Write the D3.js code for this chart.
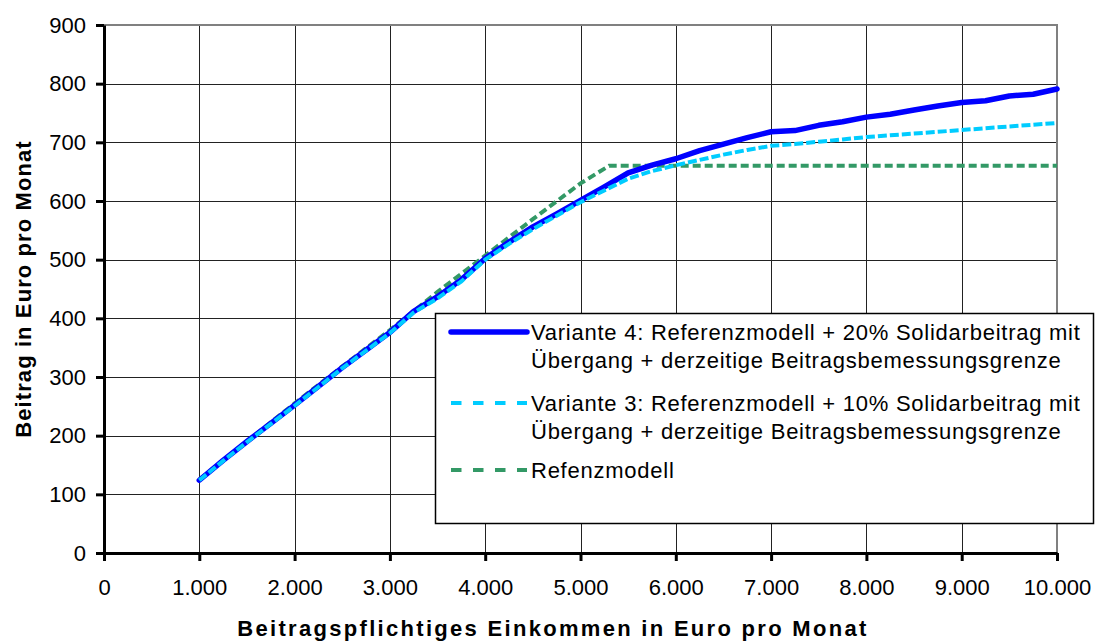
<!DOCTYPE html>
<html>
<head>
<meta charset="utf-8">
<script src="https://cdn.jsdelivr.net/npm/d3@7"></script>
<style>
  body { margin: 0; background: #fff; }
  svg { font-family: "Liberation Sans", Arial, sans-serif; }
</style>
</head>
<body>
<div id="chart"></div>
<script>
// income steps (Euro / month) for the two variants
const income = [1000, 1250, 1500, 1750, 2000, 2250, 2500, 2750, 3000, 3250, 3500, 3750,
    4000, 4250, 4500, 4750, 5000, 5250, 5500, 5750, 6000, 6250, 6500, 6750, 7000, 7250,
    7500, 7750, 8000, 8250, 8500, 8750, 9000, 9250, 9500, 9750, 10000];

const variante4 = [124, 158, 190, 221, 252, 284, 316, 346, 376, 412, 437, 466,
    502, 530, 556, 578, 601, 624, 648, 661, 672, 686, 697, 708, 718, 720,
    729, 735, 743, 748, 755, 762, 768, 771, 779, 782, 791];

const variante3 = [124, 157, 189, 220, 251, 283, 315, 345, 375, 410, 434, 463,
    500, 527, 552, 575, 598, 618, 638, 651, 661, 670, 679, 687, 694, 697,
    701, 705, 709, 712, 715, 718, 721, 724, 727, 730, 733];

// reference model has its own points (kink at the cap)
const refIncome = [1000, 1500, 2000, 2500, 3000, 3500, 4000, 4500, 5000, 5300, 10000];
const referenz = [125, 190, 255, 318, 380, 445, 507, 569, 630, 660, 660];

const xTicks = [0, 1000, 2000, 3000, 4000, 5000, 6000, 7000, 8000, 9000, 10000];
const yTicks = [0, 100, 200, 300, 400, 500, 600, 700, 800, 900];

const seriesNames = [
    ["Variante 4: Referenzmodell + 20% Solidarbeitrag mit", "Übergang + derzeitige Beitragsbemessungsgrenze"],
    ["Variante 3: Referenzmodell + 10% Solidarbeitrag mit", "Übergang + derzeitige Beitragsbemessungsgrenze"],
    ["Refenzmodell"]
];

const width = 1096, height = 641;
const margin = {top: 25, right: 39, bottom: 88, left: 104};

const de = d3.formatLocale({decimal: ",", thousands: ".", grouping: [3], currency: ["", " €"]});
const fmt = de.format(",d");

const svg = d3.select("#chart")
    .append("svg")
    .attr("width", width)
    .attr("height", height);

const x = d3.scaleLinear()
    .domain([0, 10000])
    .range([margin.left, width - margin.right]);

const y = d3.scaleLinear()
    .domain([0, 900])
    .range([height - margin.bottom, margin.top]);

// grid
svg.append("g")
    .selectAll("line.h")
    .data(yTicks.filter(d => d > 0 && d < 900))
    .join("line")
    .attr("x1", x(0)).attr("x2", x(10000))
    .attr("y1", d => Math.round(y(d)) + 0.5).attr("y2", d => Math.round(y(d)) + 0.5)
    .attr("stroke", "#222").attr("stroke-width", 1);

svg.append("g")
    .selectAll("line.v")
    .data(xTicks.filter(d => d > 0 && d < 10000))
    .join("line")
    .attr("x1", d => Math.round(x(d)) + 0.5).attr("x2", d => Math.round(x(d)) + 0.5)
    .attr("y1", y(0)).attr("y2", y(900))
    .attr("stroke", "#222").attr("stroke-width", 1);

// plot area border (top + right), grey
svg.append("path")
    .attr("d", `M${x(0)},${y(900)}H${x(10000)}V${y(0)}`)
    .attr("fill", "none")
    .attr("stroke", "#808080")
    .attr("stroke-width", 2);

// axes
const yAxis = svg.append("g")
    .attr("transform", `translate(${x(0)},0)`)
    .call(d3.axisLeft(y).tickValues(yTicks).tickSize(8).tickSizeOuter(0).tickPadding(10));

const xAxis = svg.append("g")
    .attr("transform", `translate(0,${y(0)})`)
    .call(d3.axisBottom(x).tickValues(xTicks).tickFormat(fmt).tickSize(8).tickSizeOuter(0).tickPadding(18));

[yAxis, xAxis].forEach(a => {
    a.select(".domain").attr("stroke", "#000").attr("stroke-width", 3);
    a.selectAll(".tick line").attr("stroke", "#000").attr("stroke-width", 3);
    a.selectAll(".tick text")
        .attr("fill", "#000")
        .style("font-size", "22px")
        .style("font-family", "'Liberation Sans', Arial, sans-serif");
});

// lines
const line = d3.line().x(d => x(d[0])).y(d => y(d[1]));

svg.append("path")
    .datum(refIncome.map((v, i) => [v, referenz[i]]))
    .attr("d", line)
    .attr("fill", "none")
    .attr("stroke", "#339966")
    .attr("stroke-width", 4)
    .attr("stroke-dasharray", "8,4");

svg.append("path")
    .datum(income.map((v, i) => [v, variante4[i]]))
    .attr("d", line)
    .attr("fill", "none")
    .attr("stroke", "#0000ff")
    .attr("stroke-width", 5.5)
    .attr("stroke-linejoin", "round")
    .attr("stroke-linecap", "round");

svg.append("path")
    .datum(income.map((v, i) => [v, variante3[i]]))
    .attr("d", line)
    .attr("fill", "none")
    .attr("stroke", "#00ccff")
    .attr("stroke-width", 4)
    .attr("stroke-dasharray", "9,3");

// axis titles
svg.append("text")
    .attr("x", 553)
    .attr("y", 636)
    .attr("text-anchor", "middle")
    .style("font-size", "22px")
    .style("font-weight", "bold")
    .style("letter-spacing", "2.3px")
    .text("Beitragspflichtiges Einkommen in Euro pro Monat");

svg.append("text")
    .attr("transform", `translate(31,289) rotate(-90)`)
    .attr("text-anchor", "middle")
    .style("font-size", "22px")
    .style("font-weight", "bold")
    .style("letter-spacing", "1.1px")
    .text("Beitrag in Euro pro Monat");

// legend
const legend = svg.append("g");
legend.append("rect")
    .attr("x", 435.5).attr("y", 313.5)
    .attr("width", 658).attr("height", 210)
    .attr("fill", "#fff")
    .attr("stroke", "#000")
    .attr("stroke-width", 1.5);

const legendRows = [
    {y: 332, color: "#0000ff", w: 5.5, dash: null},
    {y: 403, color: "#00ccff", w: 4, dash: "10.5,11.5"},
    {y: 470, color: "#339966", w: 4, dash: "10.5,11.5"}
];

legendRows.forEach((r, i) => {
    legend.append("line")
        .attr("x1", 451).attr("x2", 527)
        .attr("y1", r.y).attr("y2", r.y)
        .attr("stroke", r.color)
        .attr("stroke-width", r.w)
        .attr("stroke-linecap", r.dash ? "butt" : "round")
        .attr("stroke-dasharray", r.dash);
    const t = legend.append("text")
        .attr("x", 531)
        .attr("y", r.y + 8)
        .style("font-size", "22px")
        .style("letter-spacing", "0.75px");
    seriesNames[i].forEach((s, j) => {
        t.append("tspan")
            .attr("x", 531)
            .attr("dy", j === 0 ? 0 : 28)
            .text(s);
    });
});
</script>
</body>
</html>
